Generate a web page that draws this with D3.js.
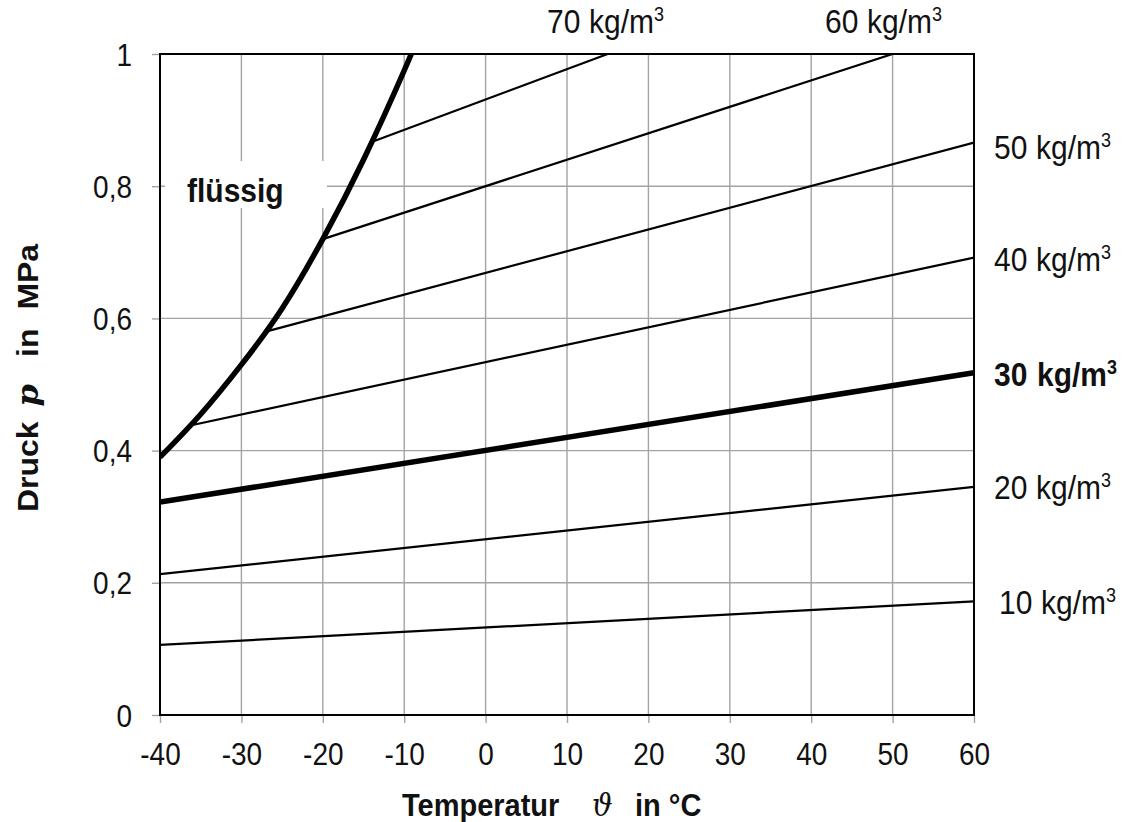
<!DOCTYPE html>
<html><head><meta charset="utf-8">
<script src="https://cdn.jsdelivr.net/npm/d3@7"></script>
<style>
body{margin:0;background:#fff;}
svg{display:block;font-family:"Liberation Sans",Arial,sans-serif;}
</style></head>
<body>
<svg id="c" width="1127" height="822"></svg>
<script>
const xTicks = [-40,-30,-20,-10,0,10,20,30,40,50,60];
const yTicks = [0,0.2,0.4,0.6,0.8,1];
const yTickLabels = ["0","0,2","0,4","0,6","0,8","1"];

// saturation (boiling) curve: temperature °C, pressure MPa
const satT = [-40,-35,-30,-25,-20,-15,-10,-8];
const satP = [0.39,0.455,0.53,0.615,0.72,0.84,0.975,1.035];

// isochores: density, start (T,p), end (T,p)
const densities = [10,20,30,40,50,60,70];
const isoStartT = [-40,-40,-40,-36.3,-27,-20,-14];
const isoStartP = [0.106,0.213,0.322,0.438,0.58,0.72,0.867];
const isoEndT   = [60,60,60,60,60,50,15];
const isoEndP   = [0.172,0.345,0.518,0.692,0.866,1.0,1.0];
const isoBold   = [false,false,true,false,false,false,false];

const m = {l:160, r:974, t:54, b:715};
const SY = 1.1; // vertical stretch of lettering
const x = d3.scaleLinear().domain([-40,60]).range([m.l,m.r]);
const y = d3.scaleLinear().domain([0,1]).range([m.b,m.t]);
const svg = d3.select("#c");

svg.append("defs").append("clipPath").attr("id","clip")
  .append("rect").attr("x",m.l).attr("y",m.t).attr("width",m.r-m.l).attr("height",m.b-m.t);

// grid
const grid = "#a3a3a3";
const g = svg.append("g");
g.selectAll(".vg").data(xTicks).join("line")
  .attr("x1",d=>x(d)).attr("x2",d=>x(d)).attr("y1",m.t).attr("y2",m.b)
  .attr("stroke",grid).attr("stroke-width",1.4);
g.selectAll(".hg").data(yTicks).join("line")
  .attr("x1",m.l).attr("x2",m.r).attr("y1",d=>y(d)).attr("y2",d=>y(d))
  .attr("stroke",grid).attr("stroke-width",1.4);

// white label box for "flüssig"
svg.append("rect").attr("x",165).attr("y",161).attr("width",162).attr("height",47).attr("fill","#fff");
svg.append("text").attr("transform",`translate(187,201.5) scale(1,${SY})`)
  .attr("font-size",30).attr("font-weight","bold").attr("fill","#111").text("flüssig");

// axes
const xAxis = d3.axisBottom(x).tickValues(xTicks).tickSize(8).tickFormat(d=>d);
const yAxis = d3.axisLeft(y).tickValues(yTicks).tickSize(8).tickFormat((d,i)=>yTickLabels[i]);
const gx = svg.append("g").attr("transform",`translate(0,${m.b})`).call(xAxis);
const gy = svg.append("g").attr("transform",`translate(${m.l},0)`).call(yAxis);
[gx,gy].forEach(a=>{
  a.select(".domain").remove();
  a.selectAll(".tick line").attr("stroke",grid).attr("stroke-width",1.4);
  a.selectAll("text").attr("font-size",28).attr("fill","#111")
    .attr("font-family","Liberation Sans, Arial, sans-serif");
});
gx.selectAll("text").attr("dy",null).attr("y",0).attr("text-anchor","middle")
  .attr("transform",`translate(0,50) scale(1,${SY})`);
gy.selectAll("text").attr("dy",null).attr("x",0).attr("text-anchor","end")
  .attr("transform",`translate(-28,11) scale(1,${SY})`);

// lines
const plot = svg.append("g").attr("clip-path","url(#clip)");
densities.forEach((d,i)=>{
  plot.append("line")
    .attr("x1",x(isoStartT[i])).attr("y1",y(isoStartP[i]))
    .attr("x2",x(isoEndT[i])).attr("y2",y(isoEndP[i]))
    .attr("stroke","#000").attr("stroke-width",isoBold[i]?5.5:2.2);
});
const sat = satT.map((t,i)=>[t,satP[i]]);
plot.append("path").datum(sat)
  .attr("d",d3.line().x(d=>x(d[0])).y(d=>y(d[1])).curve(d3.curveNatural))
  .attr("fill","none").attr("stroke","#000").attr("stroke-width",5.5);

// frame
svg.append("rect").attr("x",m.l).attr("y",m.t).attr("width",m.r-m.l).attr("height",m.b-m.t)
  .attr("fill","none").attr("stroke","#000").attr("stroke-width",2);

// density labels
function densLabel(xp, yp, d, bold){
  const t = svg.append("text").attr("transform",`translate(${xp},${yp}) scale(1,${SY})`)
    .attr("font-size",30).attr("fill","#111").attr("font-weight",bold?"bold":"normal");
  t.append("tspan").attr("x",0).text(String(d));
  t.append("tspan").attr("x",bold?43:42).text("kg/m");
  t.append("tspan").attr("font-size",18).attr("dy",-11).text("3");
}
densLabel(547, 33, 70, false);
densLabel(825, 33, 60, false);
const rightD = [50,40,30,20,10];
const rightX = [994,994,994,994,999];
const rightBase = [159,271,386,499,614];
rightD.forEach((d,k)=>{
  const i = densities.indexOf(d);
  densLabel(rightX[k], rightBase[k], d, isoBold[i]);
});

// axis titles
const xt = svg.append("text").attr("transform",`translate(402,816) scale(1,${SY})`)
  .attr("font-size",29).attr("font-weight","bold").attr("fill","#111");
xt.append("tspan").attr("x",0).text("Temperatur");
xt.append("tspan").attr("x",190).attr("font-style","italic").attr("font-weight","normal")
  .attr("font-family","DejaVu Serif, serif").text("\u03D1");
xt.append("tspan").attr("x",233).text("in °C");

const yt = svg.append("text").attr("transform",`translate(38,512) rotate(-90) scale(${SY},1)`)
  .attr("font-size",29).attr("font-weight","bold").attr("fill","#111");
yt.append("tspan").attr("x",0).text("Druck");
yt.append("tspan").attr("x",96).attr("font-style","italic").attr("font-family","DejaVu Serif, serif").text("p");
yt.append("tspan").attr("x",141).text("in");
yt.append("tspan").attr("x",184).text("MPa");
</script>
</body></html>
